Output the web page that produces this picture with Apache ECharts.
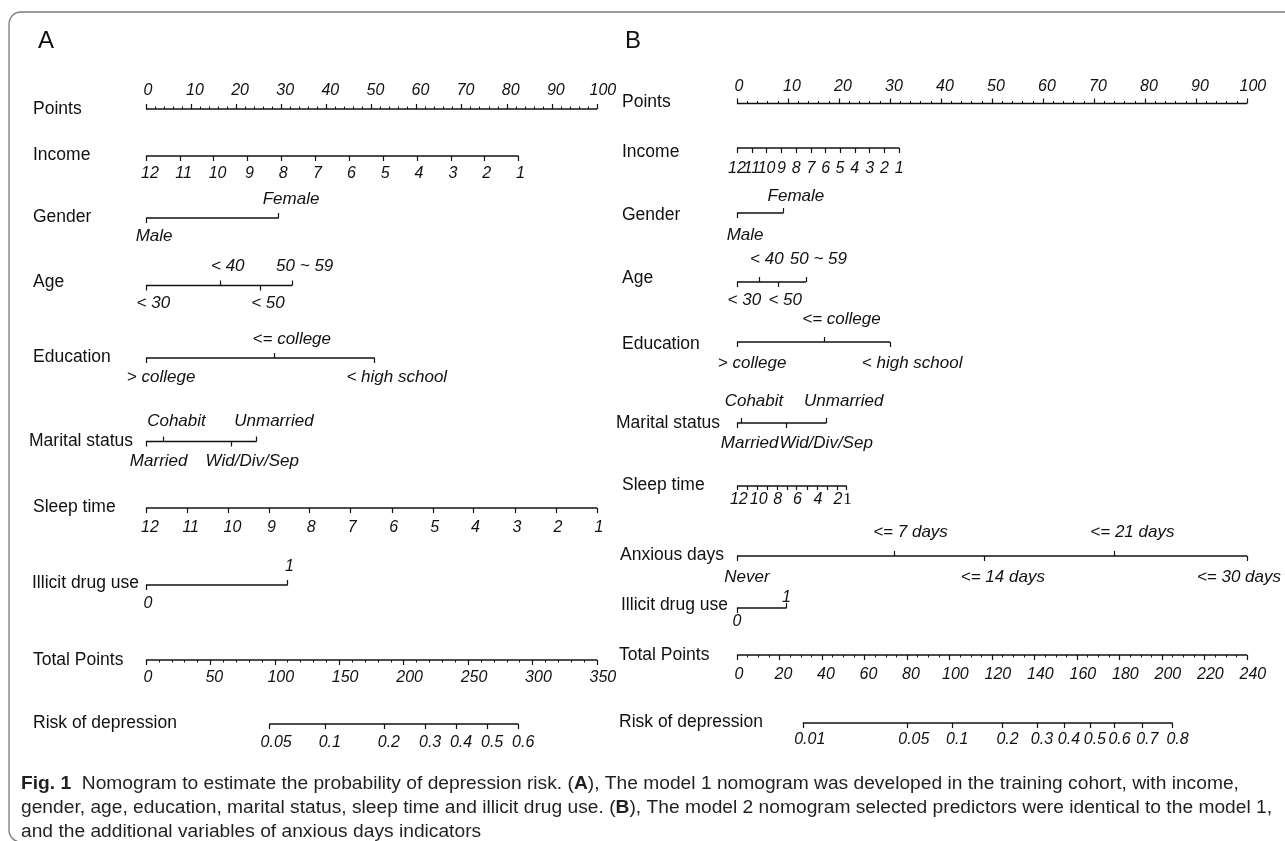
<!DOCTYPE html>
<html><head><meta charset="utf-8">
<script src="https://cdn.jsdelivr.net/npm/echarts@6/dist/echarts.min.js"></script>
<style>html,body{margin:0;padding:0;background:#fff}#c{width:1285px;height:841px}</style>
</head><body><div id="c"></div>
<script>
// ================= DATA =================
// Points scale tick labels
const pointsTicks = [0, 10, 20, 30, 40, 50, 60, 70, 80, 90, 100];
const totalTicksA = [0, 50, 100, 150, 200, 250, 300, 350];
const totalTicksB = [0, 20, 40, 60, 80, 100, 120, 140, 160, 180, 200, 220, 240];

// Variable levels (shared labels)
const incomeLevels = ['12', '11', '10', '9', '8', '7', '6', '5', '4', '3', '2', '1'];
const genderLevels = ['Male', 'Female'];
const ageLevels = ['< 30', '< 40', '< 50', '50 ~ 59'];
const eduLevels = ['> college', '<= college', '< high school'];
const maritalLevels = ['Married', 'Cohabit', 'Wid/Div/Sep', 'Unmarried'];
const sleepLevelsA = ['12', '11', '10', '9', '8', '7', '6', '5', '4', '3', '2', '1'];
const sleepLevelsB = ['12', '', '10', '', '8', '', '6', '', '4', '', '2', '1'];
const anxiousLevels = ['Never', '<= 7 days', '<= 14 days', '<= 21 days', '<= 30 days'];
const drugLevels = ['0', '1'];

// Panel A (model 1): points of each level
const incomePointsA = [0, 7.5, 15.0, 22.5, 30.0, 37.6, 45.1, 52.6, 60.1, 67.6, 75.1, 82.6];
const genderPointsA = [0, 29.4];
const agePointsA = [0, 16.5, 25.4, 32.4];
const eduPointsA = [0, 28.5, 50.7];
const maritalPointsA = [0, 3.9, 19.0, 24.5];
const sleepPointsA = [0, 9.1, 18.3, 27.4, 36.2, 45.3, 54.5, 63.6, 72.6, 81.8, 90.9, 100];
const drugPointsA = [0, 31.4];
const riskLabelsA = ['0.05', '0.1', '0.2', '0.3', '0.4', '0.5', '0.6'];
const riskTotalA = [95.7, 138.8, 184.7, 216.7, 240.7, 264.8, 288.9];

// Panel B (model 2): points of each level
const incomePointsB = [0, 2.9, 5.8, 8.7, 11.6, 14.5, 17.4, 20.2, 23.1, 26.0, 28.9, 31.8];
const genderPointsB = [0, 9.1];
const agePointsB = [0, 4.4, 8.0, 13.5];
const eduPointsB = [0, 17.1, 30.0];
const maritalPointsB = [0, 0.8, 9.7, 17.5];
const sleepPointsB = [0, 2.0, 3.9, 5.9, 7.8, 9.8, 11.7, 13.7, 15.7, 17.6, 19.6, 21.5];
const anxiousPointsB = [0, 30.8, 48.5, 73.9, 100];
const drugPointsB = [0, 9.7];
const riskLabelsB = ['0.01', '0.05', '0.1', '0.2', '0.3', '0.4', '0.5', '0.6', '0.7', '0.8'];
const riskTotalB = [31.0, 80.0, 101.3, 125.0, 141.2, 153.9, 166.1, 177.7, 190.8, 205.0];

const captionLines = [
  '{b|Fig. 1}  Nomogram to estimate the probability of depression risk. ({b|A}), The model 1 nomogram was developed in the training cohort, with income,',
  'gender, age, education, marital status, sleep time and illicit drug use. ({b|B}), The model 2 nomogram selected predictors were identical to the model 1,',
  'and the additional variables of anxious days indicators'
];

// ================= LAYOUT / STYLE =================
const FAMILY = '"Liberation Sans", Arial, Helvetica, sans-serif';
const SERIF = '"Liberation Serif", "DejaVu Serif", serif';
const INK = '#111111';
const K = 0.22; // label shift factor relative to its width

const panelA = { left: 146, width: 451, tx: 33, clampRight: 640 };
const panelB = { left: 737, width: 510, tx: 622, clampRight: 1281 };

const D = (n) => Array(n).fill('d');

const rowsA = [
  { name: 'Points', scale: true, max: 100, interval: 10, minor: 5, ticks: pointsTicks, side: 'u', line: 109, ty: 109.5, up: 18.3, fs: 16 },
  { name: 'Income', levels: incomeLevels, pts: incomePointsA, sides: D(12), line: 156, ty: 155, dn: 16.8, fs: 16 },
  { name: 'Gender', levels: genderLevels, pts: genderPointsA, sides: ['d', 'u'], line: 218, ty: 217, up: 18.5, dn: 18.5, fs: 17, avoid: true },
  { name: 'Age', levels: ageLevels, pts: agePointsA, sides: ['d', 'u', 'd', 'u'], line: 285.5, ty: 282, up: 19, dn: 17.5, fs: 17, avoid: true },
  { name: 'Education', levels: eduLevels, pts: eduPointsA, sides: ['d', 'u', 'd'], line: 358, ty: 357, up: 18, dn: 19, fs: 17, avoid: true },
  { name: 'Marital status', levels: maritalLevels, pts: maritalPointsA, sides: ['d', 'u', 'd', 'u'], line: 441.5, ty: 441, tx: 29, up: 20, dn: 20, fs: 17, avoid: true },
  { name: 'Sleep time', levels: sleepLevelsA, pts: sleepPointsA, sides: D(12), line: 508, ty: 507, dn: 19, fs: 16 },
  { name: 'Illicit drug use', levels: drugLevels, pts: drugPointsA, sides: ['d', 'u'], line: 585, ty: 583.5, tx: 32, up: 18, dn: 18, fs: 16 },
  { name: 'Total Points', scale: true, max: 350, interval: 50, minor: 5, ticks: totalTicksA, side: 'd', line: 660, ty: 660, dn: 17.5, fs: 16 },
  { name: 'Risk of depression', levels: riskLabelsA, pts: riskTotalA, axisMax: 350, sides: D(7), line: 724, ty: 723, dn: 18, fs: 16 }
];

const rowsB = [
  { name: 'Points', scale: true, max: 100, interval: 10, minor: 5, ticks: pointsTicks, side: 'u', line: 103.5, ty: 102, up: 17, fs: 16 },
  { name: 'Income', levels: incomeLevels, pts: incomePointsB, sides: D(12), line: 148, ty: 152, dn: 20, fs: 16, k: 0 },
  { name: 'Gender', levels: genderLevels, pts: genderPointsB, sides: ['d', 'u'], line: 213, ty: 215, up: 16, dn: 22, fs: 17, avoid: true },
  { name: 'Age', levels: ageLevels, pts: agePointsB, sides: ['d', 'u', 'd', 'u'], line: 282, ty: 278, up: 22, dn: 18, fs: 17, avoid: true, gap: 5 },
  { name: 'Education', levels: eduLevels, pts: eduPointsB, sides: ['d', 'u', 'd'], line: 342, ty: 344, up: 22, dn: 21, fs: 17, avoid: true },
  { name: 'Marital status', levels: maritalLevels, pts: maritalPointsB, sides: ['d', 'u', 'd', 'u'], line: 423, ty: 423, tx: 616, up: 21, dn: 20, fs: 17, avoid: true },
  { name: 'Sleep time', levels: sleepLevelsB, pts: sleepPointsB, sides: D(12), line: 486, ty: 485, dn: 13.5, fs: 16, k: 0.1, tickLen: 4, serif: ['1'] },
  { name: 'Anxious days', levels: anxiousLevels, pts: anxiousPointsB, sides: ['d', 'u', 'd', 'u', 'd'], line: 556, ty: 555, tx: 620, up: 23, dn: 21, fs: 17, avoid: true },
  { name: 'Illicit drug use', levels: drugLevels, pts: drugPointsB, sides: ['d', 'u'], line: 608, ty: 605, tx: 621, up: 10.5, dn: 13, fs: 16, k: 0 },
  { name: 'Total Points', scale: true, max: 240, interval: 20, minor: 4, ticks: totalTicksB, side: 'd', line: 655, ty: 655, tx: 619, dn: 19, fs: 16 },
  { name: 'Risk of depression', levels: riskLabelsB, pts: riskTotalB, axisMax: 240, sides: D(10), line: 723, ty: 722, tx: 619, dn: 16.5, fs: 16 }
];

// ================= BUILD =================
const mctx = document.createElement('canvas').getContext('2d');
function textW(t, fs, italic, fam) {
  mctx.font = (italic ? 'italic ' : '') + fs + 'px ' + fam;
  return mctx.measureText(t).width;
}

const option = {
  animation: false,
  backgroundColor: '#ffffff',
  grid: [], xAxis: [], yAxis: [], series: [], graphic: []
};

function buildPanel(panel, rows) {
  rows.forEach((row) => {
    const g = option.grid.length;
    option.grid.push({ left: panel.left, width: panel.width, top: row.line - 10, height: 10, containLabel: false, outerBoundsMode: 'none' });
    option.yAxis.push({ gridIndex: g, type: 'value', min: 0, max: 1, show: false });
    const axisMax = row.scale ? row.max : (row.axisMax || 100);
    const fs = row.fs;
    const k = row.k != null ? row.k : K;
    const gap = row.gap != null ? row.gap : 1;
    let items;
    if (row.scale) items = row.ticks.map(v => ({ v, text: String(v), side: row.side }));
    else items = row.levels.map((t, i) => ({ v: row.pts[i], text: t, side: row.sides[i] }));

    let downIdx = -1;
    const labelData = [];
    ['d', 'u'].forEach(side => {
      const its = items.filter(it => it.side === side).sort((a, b) => a.v - b.v);
      const xi = option.xAxis.length;
      if (side === 'd') downIdx = xi;
      let prevRight = -Infinity;
      its.forEach((it) => {
        if (!it.text) return;
        const isSerif = row.serif && row.serif.indexOf(it.text) >= 0;
        const w = isSerif ? textW(it.text, fs + 1, false, SERIF) : textW(it.text, fs, true, FAMILY);
        const px = panel.left + it.v / axisMax * panel.width;
        let l = px + k * w - w / 2;
        if (row.avoid && l < prevRight + gap) l = prevRight + gap;
        if (l + w > panel.clampRight) l = panel.clampRight - w;
        prevRight = l + w;
        const off = l + w / 2 - px;
        const lab = {
          position: side === 'u' ? 'top' : 'bottom',
          distance: (side === 'u' ? row.up : row.dn) - fs / 2,
          padding: off >= 0 ? [0, 0, 0, 2 * off] : [0, -2 * off, 0, 0]
        };
        if (isSerif) { lab.fontFamily = SERIF; lab.fontStyle = 'normal'; lab.fontSize = fs + 1; }
        labelData.push({ value: [it.v, 0], name: it.text, label: lab });
      });
      const has = its.length > 0;
      const axis = {
        gridIndex: g, type: 'value', min: 0, max: axisMax, position: 'bottom', offset: 0,
        axisLine: { show: false }, splitLine: { show: false },
        axisTick: { show: has, inside: side === 'u', length: row.tickLen || 5, lineStyle: { color: INK, width: 1.2 } },
        axisLabel: { show: false }
      };
      if (has) {
        if (row.scale) {
          axis.interval = row.interval;
          axis.minorTick = { show: true, splitNumber: row.minor, length: 2.5, lineStyle: { color: INK, width: 1 } };
        } else {
          axis.axisTick.customValues = its.map(it => it.v);
        }
      }
      option.xAxis.push(axis);
    });

    const lo = row.scale ? 0 : Math.min(...row.pts);
    const hi = row.scale ? row.max : Math.max(...row.pts);
    option.series.push({
      type: 'line', xAxisIndex: downIdx, yAxisIndex: g, data: [[lo, 0], [hi, 0]],
      symbol: 'none', silent: true, clip: false, lineStyle: { color: INK, width: 1.4 }, z: 3
    });
    option.series.push({
      type: 'scatter', xAxisIndex: downIdx, yAxisIndex: g, data: labelData,
      symbolSize: 0.5, itemStyle: { color: INK, opacity: 1 }, silent: true, clip: false, z: 5,
      label: { show: true, formatter: '{b}', fontSize: fs, lineHeight: fs, fontStyle: 'italic', fontFamily: FAMILY, color: INK, opacity: 1, textBorderWidth: 0 },
      labelLayout: { hideOverlap: false },
      emphasis: { disabled: true }
    });
    option.graphic.push({
      type: 'text', x: row.tx != null ? row.tx : panel.tx, y: row.ty, silent: true,
      style: { text: row.name, fontSize: 17.5, fontFamily: FAMILY, fill: INK, verticalAlign: 'middle', align: 'left' }
    });
  });
}

buildPanel(panelA, rowsA);
buildPanel(panelB, rowsB);

// panel letters
option.graphic.push({ type: 'text', x: 38, y: 41, style: { text: 'A', fontSize: 24, fontFamily: FAMILY, fill: INK, verticalAlign: 'middle' } });
option.graphic.push({ type: 'text', x: 625, y: 41, style: { text: 'B', fontSize: 24, fontFamily: FAMILY, fill: INK, verticalAlign: 'middle' } });

// frame
option.graphic.push({ type: 'rect', silent: true, shape: { x: 9, y: 12, width: 1300, height: 830, r: 12 }, style: { fill: 'none', stroke: '#7a7a7a', lineWidth: 1.3 } });

// caption
const capFs = 17.5;
const plain2 = captionLines[1].replace(/\{b\|([^}]*)\}/g, '$1');
const capScale = (1271 - 21) / textW(plain2, capFs, false, FAMILY);
const capY = [784, 808, 832];
captionLines.forEach((t, i) => {
  option.graphic.push({
    type: 'text', x: 21, y: capY[i], scaleX: capScale, silent: true,
    style: {
      text: t, fontSize: capFs, fontFamily: FAMILY, fill: '#231f20', verticalAlign: 'middle', align: 'left',
      rich: { b: { fontWeight: 'bold', fontSize: capFs, fontFamily: FAMILY, fill: '#231f20' } }
    }
  });
});

const chart = echarts.init(document.getElementById('c'), null, { renderer: 'canvas' });
chart.setOption(option);
</script>
</body></html>
